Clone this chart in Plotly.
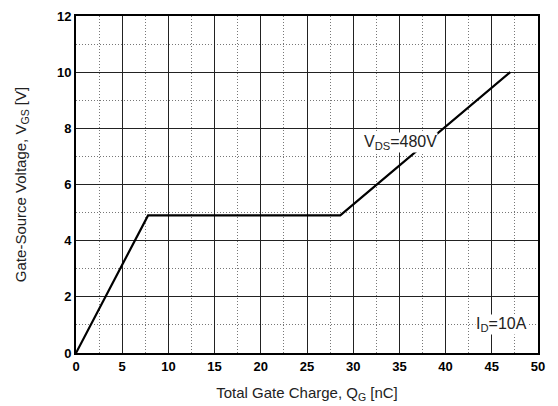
import plotly.graph_objects as go

qg = [0, 7.8, 28.6, 47.0]
vgs = [0, 4.9, 4.9, 10.0]
x_ticks = [0, 5, 10, 15, 20, 25, 30, 35, 40, 45, 50]
y_ticks = [0, 2, 4, 6, 8, 10, 12]

fig = go.Figure()
fig.add_trace(go.Scatter(x=qg, y=vgs, mode="lines",
                         line=dict(color="black", width=2.2), showlegend=False))

fig.add_annotation(x=35.1, y=7.5, text="V<sub>DS</sub>=480V", showarrow=False,
                   font=dict(family="Liberation Sans, Arial", size=16, color="#222"),
                   bgcolor="white", borderpad=0)
fig.add_annotation(x=46.1, y=1.0, text="I<sub>D</sub>=10A", showarrow=False,
                   font=dict(family="Liberation Sans, Arial", size=16, color="#222"),
                   bgcolor="white", borderpad=0)

axis_common = dict(showline=True, linecolor="black", linewidth=2, mirror=True,
                   showgrid=True, gridcolor="#222", gridwidth=1, zeroline=False,
                   ticks="", automargin=False,
                   tickfont=dict(family="Liberation Sans, Arial", size=13, color="black", weight="bold"),
                   title_font=dict(family="Liberation Sans, Arial", size=15, color="#222"))

fig.update_xaxes(range=[0, 50], tickvals=x_ticks,
                 minor=dict(dtick=2.5, showgrid=True, griddash="1px,2px", gridcolor="#777", gridwidth=1),
                 title_text="Total Gate Charge, Q<sub>G</sub> [nC]", title_standoff=15, **axis_common)
fig.update_yaxes(range=[0, 12], tickvals=y_ticks,
                 minor=dict(dtick=1, showgrid=True, griddash="1px,2px", gridcolor="#777", gridwidth=1),
                 title_text="Gate-Source Voltage, V<sub>GS</sub> [V]", title_standoff=27, **axis_common)

fig.update_layout(width=550, height=398, margin=dict(l=68, r=20, t=8, b=53),
                  plot_bgcolor="white", paper_bgcolor="white")

fig.write_html("out.html")
